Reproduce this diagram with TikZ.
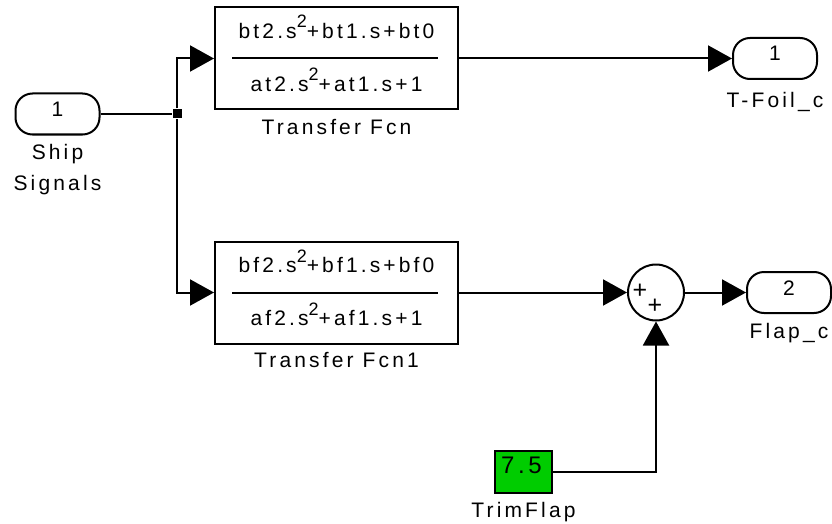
\documentclass[tikz,border=0pt]{standalone}
\usepackage{fontspec}
\setmainfont[LetterSpace=15]{Liberation Sans}
\usetikzlibrary{
  positioning,
  arrows.meta,             % triangle heads
  calc
}
\definecolor{simgreen}{RGB}{0,204,0}
\newcommand{\stwo}{\raisebox{0.5em}{\fontsize{18}{18}\selectfont 2}}

\begin{document}
\begin{tikzpicture}[
    x=1pt, y=-1pt,
    font=\fontsize{21}{31}\selectfont,
    >={Triangle[length=24pt, width=26pt]},
    line width=2pt,
    every node/.style={align=center},
    portbox/.style={rectangle, rounded corners=17pt, draw, line width=2pt,
                    minimum width=84pt, minimum height=41pt, inner sep=0pt},
    porttext/.style={inner sep=0pt},
    tfbox/.style={rectangle, draw, line width=2pt,
                  minimum width=243pt, minimum height=102pt, inner sep=0pt},
    sumbox/.style={circle, draw, line width=2pt, minimum size=56pt, inner sep=0pt},
    signtext/.style={inner sep=0pt, font=\fontsize{25}{25}\selectfont},
    constbox/.style={rectangle, draw, line width=2pt, fill=simgreen,
                     minimum width=57pt, minimum height=42pt, inner sep=0pt},
    blocklabel/.style={inner sep=0pt},
    polytext/.style={anchor=base, inner sep=0pt}
]
  \useasboundingbox (0,0) rectangle (832,524);

  % blocks
  \node[portbox]  (in)   at (57.5,114)  {};
  \node[tfbox]    (tf1)  at (336.5,58.5) {};
  \node[tfbox]    (tf2)  at (336.5,292.5) {};
  \node[portbox]  (out1) at (775,58.5)   {};
  \node[sumbox]   (sum)  at (656,292.5)  {};
  \node[portbox]  (out2) at (789,292.5)  {};
  \node[constbox] (trim) at (523.5,472)  {};
  \node[fill, minimum size=9pt, inner sep=0pt] (split) at (177,114) {};

  % block contents
  \node[porttext] (innum)   at ([yshift=5pt]in.center)   {1};
  \node[porttext] (out1num) at ([yshift=5pt]out1.center) {1};
  \node[porttext] (out2num) at ([yshift=4pt]out2.center) {2};
  \draw ([xshift=18pt]tf1.west) -- ([xshift=-21pt]tf1.east);
  \node[polytext] (num1) at ([yshift=20pt]tf1.center) {bt2.s\stwo+bt1.s+bt0};
  \node[polytext] (den1) at ([yshift=-33pt]tf1.center) {at2.s\stwo+at1.s+1};
  \draw ([xshift=18pt]tf2.west) -- ([xshift=-21pt]tf2.east);
  \node[polytext] (num2) at ([yshift=20pt]tf2.center) {bf2.s\stwo+bf1.s+bf0};
  \node[polytext] (den2) at ([yshift=-33pt]tf2.center) {af2.s\stwo+af1.s+1};
  \node[signtext] (plus1) at ([xshift=-16pt,yshift=1pt]sum.center) {+};
  \node[signtext] (plus2) at ([xshift=-1pt,yshift=-14pt]sum.center) {+};
  \node[polytext, font=\fontsize{24}{24}\selectfont] (val)
        at ([xshift=-2pt,yshift=-1pt]trim.center) {7.5};

  % block names
  \node[blocklabel, below=8pt of in]   (inlbl)   {Ship\\Signals};
  \node[blocklabel, below=8pt of tf1]  (tf1lbl)  {Transfer Fcn};
  \node[blocklabel, below=7pt of tf2]  (tf2lbl)  {Transfer Fcn1};
  \node[blocklabel, below=11pt of out1] (out1lbl) {T-Foil\_c};
  \node[blocklabel, below=8pt of out2] (out2lbl) {Flap\_c};
  \node[blocklabel, below=7pt of trim] (trimlbl) {TrimFlap};

  % signals
  \draw (in.east) -- (split);
  \draw[->] (split) |- (tf1.west);
  \draw[->] (split) |- (tf2.west);
  \draw[->] (tf1.east) -- (out1.west);
  \draw[->] (tf2.east) -- (sum.west);
  \draw[->] (sum.east) -- (out2.west);
  \draw[->] (trim.east) -| (sum.south);
\end{tikzpicture}
\end{document}
